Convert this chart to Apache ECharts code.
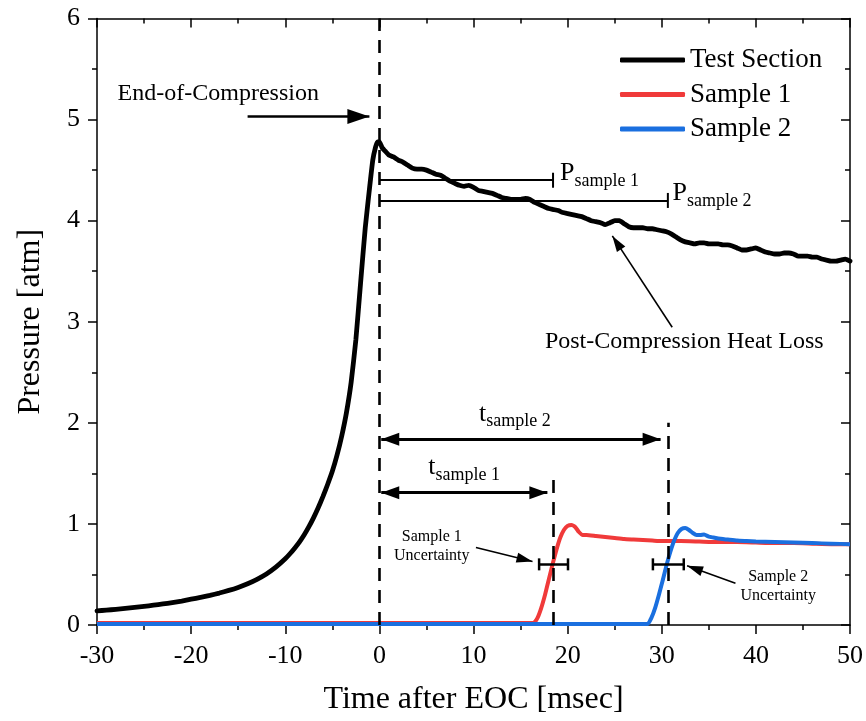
<!DOCTYPE html>
<html>
<head>
<meta charset="utf-8">
<script src="https://cdn.jsdelivr.net/npm/echarts@6/dist/echarts.min.js"></script>
<style>
  html, body { margin: 0; padding: 0; background: #ffffff; }
  #chart { width: 866px; height: 721px; }
</style>
</head>
<body>
<div id="chart"></div>
<script>
// Pressure traces: test section and the two sampling probes (time in msec after EOC)
const testTime = [
  -30, -29, -28, -27, -26, -25, -24, -23, -22, -21, -20, -19, -18, -17, -16, -15, -14, -13, -12, -11,
  -10, -9.5, -9, -8.5, -8, -7.5, -7, -6.5, -6, -5.5, -5, -4.5, -4, -3.5, -3, -2.5, -2, -1.5, -1.0,
  -0.7, -0.4, -0.2,
  0.0, 0.3, 0.6, 1.0, 1.5, 2.0, 2.5, 3.0, 3.5, 4.0, 4.5, 5.0, 5.5, 6.0, 6.5, 7.0, 7.5, 8.0, 8.5, 9.0,
  9.5, 10.0, 10.5, 11.0, 11.5, 12.0, 12.5, 13.0, 13.5, 14.0, 14.5, 15.0, 15.5, 16.0, 16.5, 17.0, 17.5,
  18.0, 18.5, 19.0, 19.5, 20.0, 20.5, 21.0, 21.5, 22.0, 22.5, 23.0, 23.5, 24.0, 24.5, 25.0, 25.5, 26.0,
  26.5, 27.0, 27.5, 28.0, 28.5, 29.0, 29.5, 30.0, 30.5, 31.0, 31.5, 32.0, 32.5, 33.0, 33.5, 34.0, 34.5,
  35.0, 35.5, 36.0, 36.5, 37.0, 37.5, 38.0, 38.5, 39.0, 39.5, 40.0, 40.5, 41.0, 41.5, 42.0, 42.5, 43.0,
  43.5, 44.0, 44.5, 45.0, 45.5, 46.0, 46.5, 47.0, 47.5, 48.0, 48.5, 49.0, 49.5, 50.0
];
const testPressure = [
  0.140, 0.147, 0.155, 0.164, 0.174, 0.184, 0.196, 0.208, 0.222, 0.237, 0.255, 0.273, 0.293, 0.316, 0.342, 0.372, 0.408, 0.452, 0.505, 0.572,
  0.655, 0.705, 0.76, 0.82, 0.89, 0.97, 1.06, 1.16, 1.27, 1.39, 1.52, 1.68, 1.87, 2.10, 2.40, 2.82, 3.38, 3.93, 4.36,
  4.60, 4.73, 4.78,
  4.78, 4.72, 4.69, 4.65, 4.63, 4.60, 4.58, 4.55, 4.52, 4.51, 4.51, 4.50, 4.48, 4.46, 4.45, 4.42, 4.39, 4.37, 4.35, 4.34,
  4.35, 4.33, 4.30, 4.29, 4.28, 4.27, 4.25, 4.23, 4.22, 4.21, 4.21, 4.21, 4.22, 4.21, 4.18, 4.16, 4.14,
  4.12, 4.11, 4.10, 4.08, 4.07, 4.06, 4.05, 4.04, 4.02, 4.00, 3.99, 3.98, 3.96, 3.98, 4.00, 4.00, 3.97,
  3.94, 3.93, 3.93, 3.93, 3.92, 3.92, 3.91, 3.90, 3.89, 3.87, 3.84, 3.81, 3.79, 3.78, 3.77, 3.78, 3.78,
  3.77, 3.77, 3.77, 3.76, 3.76, 3.75, 3.73, 3.71, 3.71, 3.72, 3.73, 3.71, 3.69, 3.68, 3.67, 3.67, 3.68,
  3.68, 3.67, 3.65, 3.65, 3.65, 3.64, 3.64, 3.62, 3.61, 3.60, 3.60, 3.61, 3.62, 3.60
];

const sample1Time = [
  -30, 16.4, 16.8, 17.2, 17.6, 18.0, 18.4, 18.8, 19.2, 19.6, 20.0, 20.4, 20.8, 21.2, 21.6, 22.0,
  23, 24, 25, 26, 27, 28, 29, 30, 32, 34, 36, 38, 40, 42, 44, 46, 48, 50
];
const sample1Pressure = [
  0.021, 0.021, 0.07, 0.17, 0.30, 0.45, 0.60, 0.74, 0.86, 0.94, 0.98, 0.99, 0.97, 0.92, 0.89, 0.89,
  0.88, 0.87, 0.86, 0.85, 0.845, 0.84, 0.835, 0.83, 0.83, 0.825, 0.82, 0.82, 0.815, 0.81, 0.81, 0.805, 0.80, 0.80
];

const sample2Time = [
  -30, 28.5, 28.9, 29.3, 29.7, 30.1, 30.5, 30.9, 31.3, 31.7, 32.1, 32.5, 32.9, 33.3, 33.7, 34.1, 34.5,
  35.0, 35.5, 36, 37, 38, 39, 40, 42, 44, 46, 48, 50
];
const sample2Pressure = [
  0.01, 0.01, 0.07, 0.17, 0.30, 0.44, 0.59, 0.72, 0.83, 0.91, 0.95, 0.96, 0.94, 0.91, 0.89, 0.89, 0.895,
  0.875, 0.865, 0.855, 0.845, 0.835, 0.83, 0.825, 0.82, 0.815, 0.81, 0.805, 0.80
];

// Axis ranges and tick labels
const xTicks = [-30, -20, -10, 0, 10, 20, 30, 40, 50];
const yTicks = [0, 1, 2, 3, 4, 5, 6];

// Annotation values (msec / atm)
const eocTime = 0;
const sample1Arrival = 18.45;
const sample2Arrival = 30.65;
const sample1Level = 4.40;
const sample2Level = 4.20;
const sample1Window = [16.97, 20.04];
const sample2Window = [29.06, 32.34];
const windowLevel = 0.60;

const SERIF = '"Liberation Serif", "Times New Roman", serif';
const INK = '#000000';

const zip = (xs, ys) => xs.map((x, i) => [x, ys[i]]);

function seg(a, b) { return [{ coord: a }, { coord: b }]; }

const subRich = {
  m: { fontFamily: SERIF, fontSize: 26, color: INK, lineHeight: 30 },
  s: { fontFamily: SERIF, fontSize: 18, color: INK, lineHeight: 18, padding: [16, 0, 0, 0] }
};

function note(x, y, text, opts) {
  return {
    value: [x, y],
    label: Object.assign({
      show: true, position: 'inside', formatter: text,
      fontFamily: SERIF, color: INK, fontSize: 24, rich: subRich,
      opacity: 1, textBorderWidth: 0, textShadowBlur: 0
    }, opts || {})
  };
}

const chart = echarts.init(document.getElementById('chart'), null, { renderer: 'canvas' });

const axisCommon = {
  type: 'value',
  axisLine: { show: true, onZero: false, lineStyle: { color: INK, width: 1.5 } },
  splitLine: { show: false },
  minorSplitLine: { show: false }
};

chart.setOption({
  animation: false,
  backgroundColor: '#ffffff',
  grid: { left: 97, right: 14.5, top: 18.5, bottom: 94, containLabel: false },
  legend: {
    data: ['Test Section', 'Sample 1', 'Sample 2'],
    orient: 'vertical',
    left: 615, top: 41.5,
    icon: 'roundRect',
    itemWidth: 65, itemHeight: 5, itemGap: 7.5,
    textStyle: { fontFamily: SERIF, fontSize: 27, color: INK },
    selectedMode: false
  },
  xAxis: [
    Object.assign({}, axisCommon, {
      min: xTicks[0], max: xTicks[xTicks.length - 1], interval: 10, position: 'bottom',
      axisTick: { show: true, inside: false, length: 9, lineStyle: { color: INK, width: 1.5 } },
      minorTick: { show: true, splitNumber: 2, length: 5, lineStyle: { color: INK, width: 1.5 } },
      axisLabel: { fontFamily: SERIF, fontSize: 26, color: INK, margin: 18 },
      name: 'Time after EOC [msec]', nameLocation: 'middle', nameGap: 59,
      nameTextStyle: { fontFamily: SERIF, fontSize: 32, color: INK }
    }),
    Object.assign({}, axisCommon, {
      min: xTicks[0], max: xTicks[xTicks.length - 1], interval: 10, position: 'top',
      axisTick: { show: true, inside: true, length: 9, lineStyle: { color: INK, width: 1.5 } },
      minorTick: { show: true, splitNumber: 2, length: 5, lineStyle: { color: INK, width: 1.5 } },
      axisLabel: { show: false }
    })
  ],
  yAxis: [
    Object.assign({}, axisCommon, {
      min: yTicks[0], max: yTicks[yTicks.length - 1], interval: 1, position: 'left',
      axisTick: { show: true, inside: false, length: 9, lineStyle: { color: INK, width: 1.5 } },
      minorTick: { show: true, splitNumber: 2, length: 5, lineStyle: { color: INK, width: 1.5 } },
      axisLabel: { fontFamily: SERIF, fontSize: 26, color: INK, margin: 17 },
      name: 'Pressure [atm]', nameLocation: 'middle', nameGap: 50,
      nameTextStyle: { fontFamily: SERIF, fontSize: 32, color: INK }
    }),
    Object.assign({}, axisCommon, {
      min: yTicks[0], max: yTicks[yTicks.length - 1], interval: 1, position: 'right',
      axisTick: { show: true, inside: true, length: 9, lineStyle: { color: INK, width: 1.5 } },
      minorTick: { show: true, splitNumber: 2, length: 5, lineStyle: { color: INK, width: 1.5 } },
      axisLabel: { show: false }
    })
  ],
  series: [
    // dashed time markers
    {
      type: 'line', name: 'guides', data: [], silent: true,
      markLine: {
        silent: true, symbol: ['none', 'none'], label: { show: false },
        lineStyle: { color: INK, width: 2.6, type: [13, 9] },
        data: [
          seg([eocTime, 0], [eocTime, 6]),
          seg([sample1Arrival, 0], [sample1Arrival, 1.52]),
          seg([sample2Arrival, 0], [sample2Arrival, 2.0])
        ]
      }
    },
    // pressure sampling bars with end caps
    {
      type: 'line', name: 'pbars', data: [], silent: true,
      markLine: {
        silent: true, symbol: ['none', 'rect'], symbolSize: [15, 2], label: { show: false },
        lineStyle: { color: INK, width: 2, type: 'solid' },
        data: [
          seg([eocTime, sample1Level], [sample1Arrival, sample1Level]),
          seg([eocTime, sample2Level], [sample2Arrival, sample2Level])
        ]
      }
    },
    // uncertainty windows
    {
      type: 'line', name: 'windows', data: [], silent: true, z: 5,
      markLine: {
        silent: true, symbol: ['rect', 'rect'], symbolSize: [12, 2.5], label: { show: false },
        lineStyle: { color: INK, width: 2.5, type: 'solid' },
        data: [
          seg([sample1Window[0], windowLevel], [sample1Window[1], windowLevel]),
          seg([sample2Window[0], windowLevel], [sample2Window[1], windowLevel])
        ]
      }
    },
    // delay arrows
    {
      type: 'line', name: 'delays', data: [], silent: true,
      markLine: {
        silent: true, symbol: ['triangle', 'triangle'], symbolSize: [13, 18],
        symbolOffset: [[0, 9], [0, 9]], label: { show: false },
        lineStyle: { color: INK, width: 3, type: 'solid' },
        data: [
          seg([0.2, 1.837], [29.88, 1.837]),
          seg([0.2, 1.309], [17.85, 1.309])
        ]
      }
    },
    // end of compression arrow
    {
      type: 'line', name: 'eocArrow', data: [], silent: true,
      markLine: {
        silent: true, symbol: ['none', 'triangle'], symbolSize: [15, 22],
        symbolOffset: [[0, 0], [0, 11]], label: { show: false },
        lineStyle: { color: INK, width: 2.6, type: 'solid' },
        data: [ seg([-14.0, 5.03], [-1.06, 5.03]) ]
      }
    },
    // thin pointer arrows
    {
      type: 'line', name: 'pointers', data: [], silent: true,
      markLine: {
        silent: true, symbol: ['none', 'triangle'], symbolSize: [10, 16],
        symbolOffset: [[0, 0], [0, 8]], label: { show: false },
        lineStyle: { color: INK, width: 1.6, type: 'solid' },
        data: [
          seg([31.11, 2.946], [24.75, 3.849]),
          seg([10.26, 0.766], [16.27, 0.628]),
          seg([37.83, 0.414], [32.69, 0.585])
        ]
      }
    },
    {
      type: 'line', name: 'Test Section', data: zip(testTime, testPressure),
      showSymbol: false, symbol: 'none', smooth: 0.15, z: 3,
      lineStyle: { color: '#000000', width: 4.8, join: 'round', cap: 'round' },
      itemStyle: { color: '#000000' }
    },
    {
      type: 'line', name: 'Sample 1', data: zip(sample1Time, sample1Pressure),
      showSymbol: false, symbol: 'none', smooth: 0.15, z: 3,
      lineStyle: { color: '#f03a3a', width: 4, join: 'round' },
      itemStyle: { color: '#f03a3a' }
    },
    {
      type: 'line', name: 'Sample 2', data: zip(sample2Time, sample2Pressure),
      showSymbol: false, symbol: 'none', smooth: 0.15, z: 3,
      lineStyle: { color: '#1a6fdf', width: 4, join: 'round' },
      itemStyle: { color: '#1a6fdf' }
    },
    // text annotations
    {
      type: 'scatter', name: 'notes', symbolSize: 0, silent: true, z: 6,
      itemStyle: { opacity: 1, color: INK },
      data: [
        note(-17.12, 5.26, 'End-of-Compression', { fontSize: 24 }),
        note(32.39, 2.80, 'Post-Compression Heat Loss', { fontSize: 24 }),
        note(19.2, 4.47, '{m|P}{s|sample 1}', { align: 'left' }),
        note(31.15, 4.27, '{m|P}{s|sample 2}', { align: 'left' }),
        note(14.4, 2.09, '{m|t}{s|sample 2}'),
        note(9.0, 1.56, '{m|t}{s|sample 1}'),
        note(5.57, 0.78, 'Sample 1\nUncertainty', { fontSize: 16, lineHeight: 19 }),
        note(42.37, 0.38, 'Sample 2\nUncertainty', { fontSize: 16, lineHeight: 19 })
      ]
    }
  ]
});
</script>
</body>
</html>
